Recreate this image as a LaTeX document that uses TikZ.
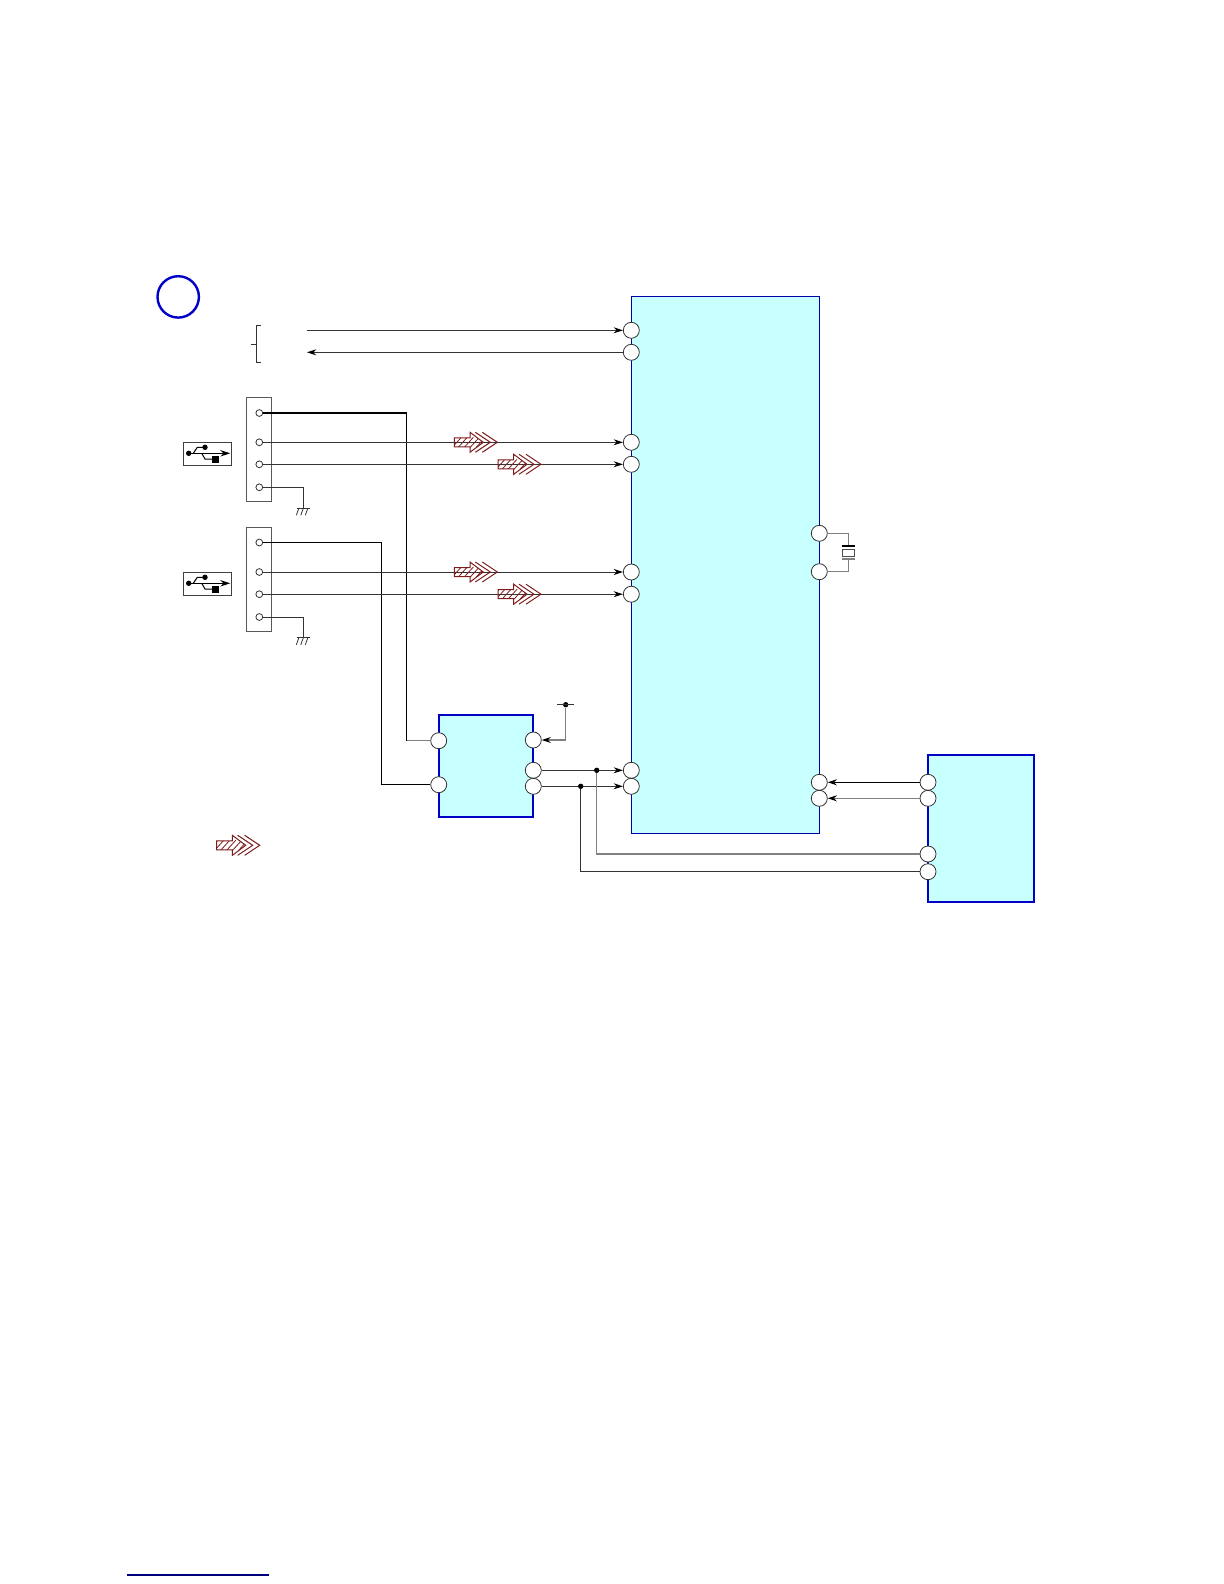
\documentclass[tikz,border=0pt]{standalone}
\usepackage{xcolor}
\usetikzlibrary{arrows.meta}
\definecolor{icfill}{HTML}{C8FFFF}
\definecolor{icblue}{HTML}{0000C8}
\definecolor{hatchred}{HTML}{7E1C1C}
\tikzset{
    wire/.style={line width=0.5pt, black!80},
    lightwire/.style={line width=0.6pt, black!50},
    mainbox/.style={draw=icblue!85!black, line width=0.5pt, fill=icfill, anchor=north west, inner sep=0, outer sep=0},
    icbox/.style={draw=icblue, line width=1.1pt, fill=icfill, anchor=north west, inner sep=0, outer sep=0},
    pinc/.style={circle, draw=black!80, line width=0.4pt, fill=white, minimum size=8pt, inner sep=0},
    smallpin/.style={circle, draw=black!80, line width=0.4pt, fill=white, minimum size=3.4pt, inner sep=0},
    dotc/.style={circle, fill=black, minimum size=2.7pt, inner sep=0},
    connbox/.style={draw=black!65, line width=0.6pt, anchor=north west, inner sep=0, outer sep=0, minimum width=12.8pt, minimum height=52pt},
    usbbox/.style={draw=black!75, line width=0.5pt, anchor=north west, inner sep=0, outer sep=0, minimum width=24pt, minimum height=11.7pt},
    hatcharrow/.pic={
        \begin{scope}
            \clip (0,-4.5) -- (15.7,-4.5) -- (15.7,-10) -- (29,0) -- (15.7,10) -- (15.7,4.5) -- (0,4.5) -- cycle;
            \foreach \i in {-8,-2,...,22}
                \draw[hatchred, line width=0.4pt] (\i,5) -- (\i+9,-5);
        \end{scope}
        \draw[hatchred, line width=0.5pt] (0,-4.5) -- (15.7,-4.5) -- (15.7,-10) -- (29,0) -- (15.7,10) -- (15.7,4.5) -- (0,4.5) -- cycle;
        \draw[hatchred, line width=0.5pt] (21,-10) -- (36,0) -- (21,10);
        \draw[hatchred, line width=0.5pt] (28,-10) -- (43,0) -- (28,10);
    },
    usbmark/.pic={
        \fill (5.4,11) circle (2.7);
        \draw[line width=0.5pt, -{Stealth[length=5pt,width=3.2pt]}] (5.4,11) -- (47,11);
        \draw[line width=0.5pt] (10,11) -- (14,5) -- (21.7,5);
        \fill (21.7,5) circle (2.7);
        \draw[line width=0.5pt] (18.4,11) -- (21.7,16.7) -- (29,16.7);
        \fill (29,13.7) rectangle (35.7,20.4);
    },
    groundmark/.pic={
        \draw[line width=0.4pt, black!80] (-6.7,0) -- (6.7,0);
        \foreach \i in {-4.5,0,4.5}
            \draw[line width=0.4pt, black!80] (\i,0) -- (\i-2.5,7);
    }
}
\begin{document}
\begin{tikzpicture}[x=0.5pt, y=-0.5pt, >={Stealth[length=4.6pt,width=3pt,black]}]
    \useasboundingbox (0,0) rectangle (1224,1584);

    \node[circle, draw=icblue, line width=1.2pt, minimum size=20.7pt, inner sep=0] (badge) at (178.2,296.9) {};

    \node[mainbox, minimum width=94pt, minimum height=268.7pt] (icmain) at (631.3,296) {};
    \node[icbox, minimum width=47.3pt, minimum height=50.8pt] (icswitch) at (438.7,715) {};
    \node[icbox, minimum width=53pt, minimum height=73.5pt] (icside) at (928,755) {};
    \node[connbox] (conna) at (246.2,397.8) {};
    \node[connbox] (connb) at (246.2,527.3) {};
    \node[usbbox] (usba) at (183.3,442.3) {};
    \node[usbbox] (usbb) at (183.3,572.3) {};

    \foreach \n/\py in {a/330.3, b/352.3, c/442.3, d/464.3, e/572, f/594.2, g/770.3, h/786.3}
        \node[pinc] (main\n) at (631.3,\py) {};
    \foreach \n/\py in {x/533.3, y/571.7, i/782.3, j/798.3}
        \node[pinc] (main\n) at (819.3,\py) {};
    \foreach \n/\py in {a/740.7, b/784.7}
        \node[pinc] (swl\n) at (438.7,\py) {};
    \foreach \n/\py in {a/740, b/770.3, c/786.3}
        \node[pinc] (swr\n) at (533.3,\py) {};
    \foreach \n/\py in {a/782.3, b/798.3, c/854, d/871.7}
        \node[pinc] (side\n) at (928,\py) {};
    \foreach \n/\py in {a/413, b/442.3, c/464.3, d/487.3}
        \node[smallpin] (conna\n) at (259.3,\py) {};
    \foreach \n/\py in {a/542.5, b/572, c/594.2, d/617}
        \node[smallpin] (connb\n) at (259.3,\py) {};

    \coordinate (sigin) at (307,330.3);
    \coordinate (sigout) at (307,352.3);
    \draw[wire, ->] (sigin) -- (maina);
    \draw[wire, ->] (mainb) -- (sigout);

    \draw[line width=0.4pt, black!80] (261,325) -- (256.3,325) -- (256.3,362) -- (261,362);
    \draw[line width=0.4pt, black!80] (251,344) -- (256.3,344);

    \coordinate (turna) at (406.7,740.7);
    \coordinate (turnb) at (381.7,784.7);
    \draw[line width=0.6pt, black] (connaa) -| (turna);
    \draw[lightwire] (turna) -- (swla);
    \draw[line width=0.6pt, black] (connba) -| (turnb) -- (swlb);
    \draw[wire, ->] (connab) -- (mainc);
    \draw[wire, ->] (connac) -- (maind);
    \draw[wire, ->] (connbb) -- (maine);
    \draw[wire, ->] (connbc) -- (mainf);

    \coordinate (gnda) at (303.3,508.3);
    \coordinate (gndb) at (303.3,637.8);
    \draw[wire] (connad) -| (gnda) pic {groundmark};
    \draw[wire] (connbd) -| (gndb) pic {groundmark};

    \pic at (183.3,442.3) {usbmark};
    \pic at (183.3,572.3) {usbmark};

    \pic at (454.3,442.3) {hatcharrow};
    \pic at (498,464.3) {hatcharrow};
    \pic at (454.3,572) {hatcharrow};
    \pic at (498,594.2) {hatcharrow};
    \pic at (216.7,845.3) {hatcharrow};

    \node[dotc] (vccdot) at (565.7,704.7) {};
    \draw[line width=0.4pt, black!80] (557,704.7) -- (574,704.7);
    \draw[lightwire, ->] (vccdot) |- (swra);
    \draw[wire, ->] (swrb) -- (maing);
    \draw[wire, ->] (swrc) -- (mainh);
    \node[dotc] (dota) at (596.7,770.3) {};
    \node[dotc] (dotb) at (580.7,786.3) {};
    \draw[lightwire] (dota) |- (sidec);
    \draw[wire] (dotb) |- (sided);

    \draw[line width=0.6pt, black, ->] (sidea) -- (maini);
    \draw[lightwire, ->] (sideb) -- (mainj);

    \coordinate (xtaltop) at (848.3,546);
    \coordinate (xtalbot) at (848.3,559);
    \draw[lightwire] (mainx) -| (xtaltop);
    \draw[lightwire] (mainy) -| (xtalbot);
    \draw[line width=0.6pt, black] (841.5,546) -- (855,546);
    \draw[lightwire] (841.5,559) -- (855,559);
    \draw[line width=0.5pt, black!70] (842,549.3) rectangle (854,556);

    \draw[line width=0.7pt, black!30!blue!70!black] (127,1575) -- (268.7,1575);
\end{tikzpicture}
\end{document}
